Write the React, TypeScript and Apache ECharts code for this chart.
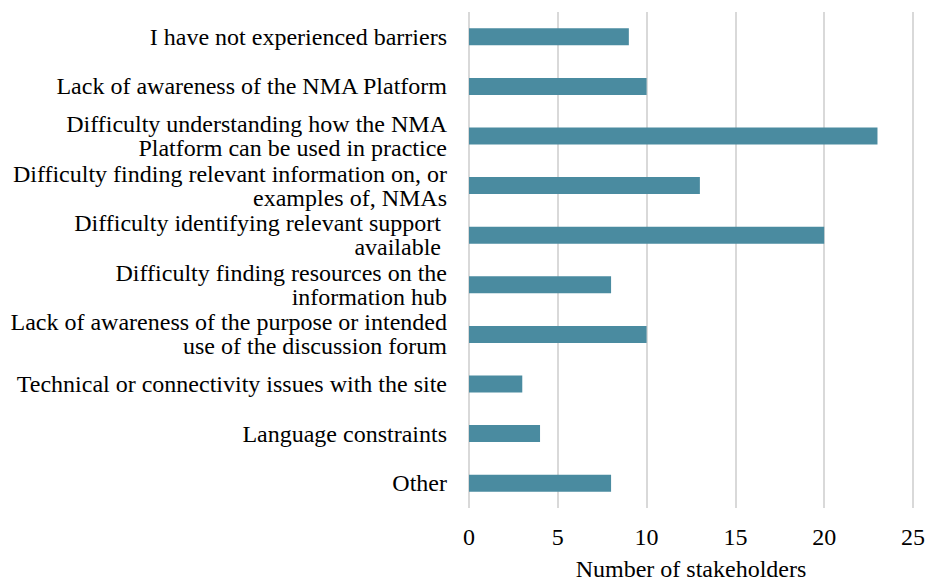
import React, { useEffect, useRef } from "react";
import * as echarts from "echarts";

const categories = [
  "I have not experienced barriers",
  "Lack of awareness of the NMA Platform",
  "Difficulty understanding how the NMA\nPlatform can be used in practice",
  "Difficulty finding relevant information on, or\nexamples of, NMAs",
  "Difficulty identifying relevant support \navailable ",
  "Difficulty finding resources on the\ninformation hub",
  "Lack of awareness of the purpose or intended\nuse of the discussion forum",
  "Technical or connectivity issues with the site",
  "Language constraints",
  "Other",
];
const values = [9, 10, 23, 13, 20, 8, 10, 3, 4, 8];
const xTicks = { min: 0, max: 25, interval: 5 };
const axisTitle = "Number of stakeholders";

const FONT = "Liberation Serif";

export default function App() {
  const ref = useRef<HTMLDivElement>(null);
  useEffect(() => {
    if (!ref.current) return;
    document.body.style.margin = "0";
    document.body.style.overflow = "hidden";
    const chart = echarts.init(ref.current, null, { renderer: "svg" });
    chart.setOption({
      animation: false,
      backgroundColor: "#ffffff",
      grid: {
        left: 469,
        right: 14,
        top: 12,
        bottom: 73,
        containLabel: false,
        outerBoundsMode: "none",
      },
      xAxis: {
        type: "value",
        min: xTicks.min,
        max: xTicks.max,
        interval: xTicks.interval,
        name: axisTitle,
        nameLocation: "middle",
        nameGap: 49,
        nameTextStyle: { fontFamily: FONT, fontSize: 24, color: "#000", lineHeight: 24 },
        axisLine: { show: false },
        axisTick: { show: false },
        axisLabel: {
          fontFamily: FONT,
          fontSize: 24,
          color: "#000",
          margin: 17,
          showMaxLabel: true,
          alignMaxLabel: "center",
        },
        splitLine: { show: true, lineStyle: { color: "#d9d9d9", width: 2 } },
      },
      yAxis: {
        type: "category",
        data: categories,
        inverse: true,
        axisLine: { show: false },
        axisTick: { show: false },
        axisLabel: {
          fontFamily: FONT,
          fontSize: 24,
          color: "#000",
          margin: 22,
          lineHeight: 24,
          align: "right",
        },
      },
      series: [
        {
          type: "bar",
          data: values,
          barWidth: 17,
          itemStyle: { color: "#4A8BA0" },
        },
      ],
    });
    return () => chart.dispose();
  }, []);
  return <div ref={ref} style={{ width: 927, height: 581 }} />;
}
